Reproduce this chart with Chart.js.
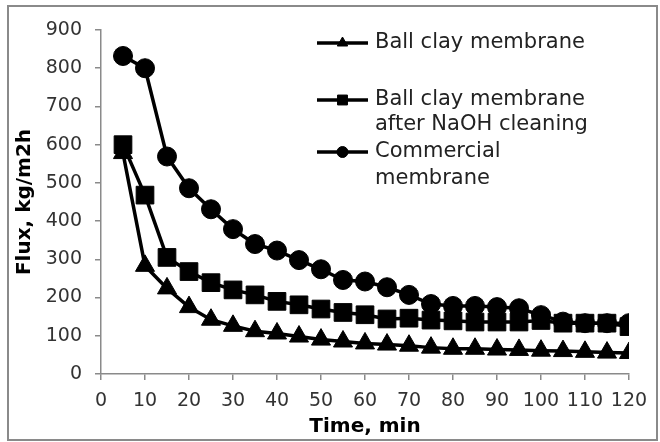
<!DOCTYPE html>
<html>
<head>
<meta charset="utf-8">
<script src="https://cdn.jsdelivr.net/npm/chart.js@4/dist/chart.umd.min.js"></script>
<style>
  html, body { margin: 0; padding: 0; background: #fff; }
  #wrap { width: 660px; height: 442px; }
</style>
</head>
<body>
<div id="wrap"><canvas id="fluxChart" width="660" height="442"></canvas></div>
<script>
// time points, min
const times = [5, 10, 15, 20, 25, 30, 35, 40, 45, 50, 55, 60, 65, 70, 75, 80, 85, 90, 95, 100, 105, 110, 115, 120];

// flux values, kg/m2h
const ballClay = [578, 283, 224, 175, 142, 126, 112, 106, 98, 90, 85, 80, 77, 74, 69, 66, 66, 64, 63, 61, 60, 58, 56, 55];
const ballClayNaOH = [600, 468, 305, 268, 239, 220, 207, 190, 181, 170, 161, 155, 144, 146, 141, 139, 136, 136, 136, 140, 133, 133, 133, 124];
const commercial = [832, 800, 569, 486, 431, 379, 340, 323, 298, 274, 246, 242, 227, 207, 183, 178, 178, 175, 172, 154, 137, 133, 133, 133];

const seriesLabels = [
  ["Ball clay membrane"],
  ["Ball clay membrane", "after NaOH cleaning"],
  ["Commercial", "membrane"]
];
const xTicks = [0, 10, 20, 30, 40, 50, 60, 70, 80, 90, 100, 110, 120];
const yTicks = [0, 100, 200, 300, 400, 500, 600, 700, 800, 900];

const FONT = "'DejaVu Sans', sans-serif";

function toPoints(vals) {
  return vals.map((v, i) => ({ x: times[i], y: v }));
}

// gray frame round the whole picture
const framePlugin = {
  id: "frame",
  beforeDraw(chart) {
    const ctx = chart.ctx;
    ctx.save();
    ctx.fillStyle = "#fff";
    ctx.fillRect(0, 0, chart.width, chart.height);
    ctx.strokeStyle = "#8a8a8a";
    ctx.lineWidth = 2;
    ctx.strokeRect(8, 6, 649, 434);
    ctx.restore();
  }
};

// legend with wrapped labels, drawn in the top right
const legendPlugin = {
  id: "sideLegend",
  afterDraw(chart) {
    const ctx = chart.ctx;
    const rows = [
      { y: 43, lines: [43] },
      { y: 100, lines: [100, 125] },
      { y: 152, lines: [152, 179] }
    ];
    const markerSize = [6, 7, 5.5];
    ctx.save();
    chart.data.datasets.forEach((ds, i) => {
      const r = rows[i];
      ctx.strokeStyle = "#000";
      ctx.fillStyle = "#000";
      ctx.lineWidth = 3.5;
      ctx.beginPath();
      ctx.moveTo(317, r.y);
      ctx.lineTo(368, r.y);
      ctx.stroke();
      ctx.lineWidth = 1;
      Chart.helpers.drawPoint(ctx, {
        pointStyle: ds.pointStyle,
        radius: markerSize[i],
        rotation: 0,
        borderWidth: 1
      }, 342.5, r.y);
      ctx.fillStyle = "#222";
      ctx.font = "21px " + FONT;
      ctx.textBaseline = "middle";
      ctx.textAlign = "left";
      seriesLabels[i].forEach((t, k) => ctx.fillText(t, 375, r.lines[k]));
    });
    ctx.restore();
  }
};

const common = {
  borderColor: "#000",
  backgroundColor: "#000",
  pointBackgroundColor: "#000",
  pointBorderColor: "#000",
  borderWidth: 3.5,
  pointBorderWidth: 1,
  tension: 0,
  fill: false
};

new Chart(document.getElementById("fluxChart").getContext("2d"), {
  type: "line",
  data: {
    datasets: [
      Object.assign({ label: seriesLabels[0].join(" "), data: toPoints(ballClay), pointStyle: "triangle", pointRadius: 11 }, common),
      Object.assign({ label: seriesLabels[1].join(" "), data: toPoints(ballClayNaOH), pointStyle: "rect", pointRadius: 12.5 }, common),
      Object.assign({ label: seriesLabels[2].join(" "), data: toPoints(commercial), pointStyle: "circle", pointRadius: 9.5 }, common)
    ]
  },
  options: {
    responsive: false,
    animation: false,
    layout: { padding: { left: 0, top: 30, right: 31, bottom: 0 } },
    plugins: {
      legend: { display: false },
      tooltip: { enabled: false }
    },
    scales: {
      x: {
        type: "linear",
        min: 0,
        max: 120,
        afterBuildTicks: (s) => { s.ticks = xTicks.map((v) => ({ value: v })); },
        afterFit: (s) => { s.height = 68; },
        border: { color: "#8a8a8a", width: 1.5 },
        grid: { display: true, drawOnChartArea: false, drawTicks: true, tickLength: 6, color: "#8a8a8a", lineWidth: 1.5 },
        ticks: { color: "#333", font: { family: FONT, size: 19 }, padding: 10, maxRotation: 0, autoSkip: false },
        title: { display: true, text: "Time, min", color: "#000", font: { family: FONT, size: 20, weight: "bold" }, padding: { top: 0, bottom: 3 } }
      },
      y: {
        min: 0,
        max: 900,
        afterBuildTicks: (s) => { s.ticks = yTicks.map((v) => ({ value: v })); },
        afterFit: (s) => { s.width = 101; },
        border: { color: "#8a8a8a", width: 1.5 },
        grid: { display: true, drawOnChartArea: false, drawTicks: true, tickLength: 6, color: "#8a8a8a", lineWidth: 1.5 },
        ticks: { color: "#333", font: { family: FONT, size: 19 }, padding: 13 },
        title: { display: true, text: "Flux, kg/m2h", color: "#000", font: { family: FONT, size: 20, weight: "bold" }, padding: { top: 13, bottom: 0 } }
      }
    }
  },
  plugins: [framePlugin, legendPlugin]
});
</script>
</body>
</html>
